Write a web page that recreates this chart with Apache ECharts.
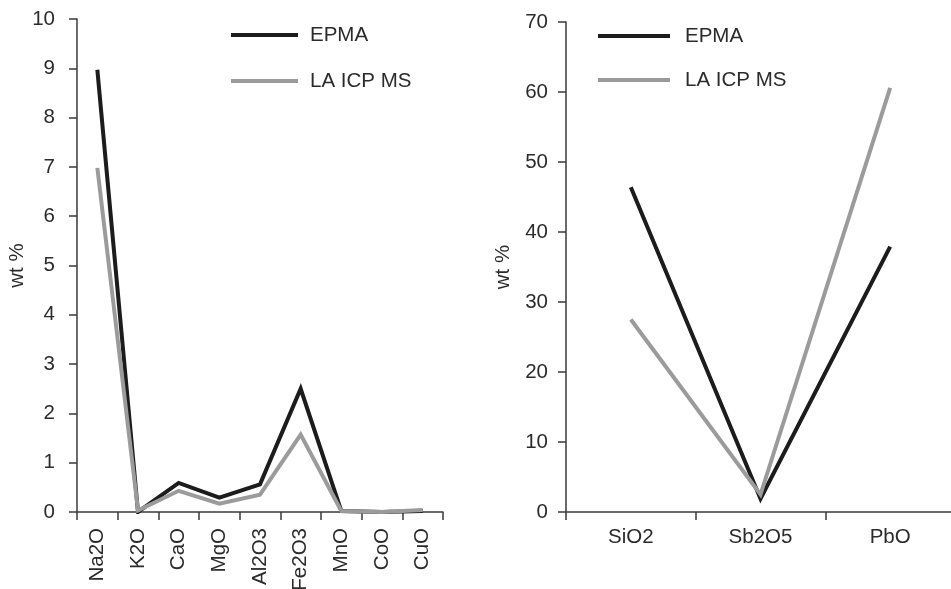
<!DOCTYPE html>
<html>
<head>
<meta charset="utf-8">
<script src="https://cdn.jsdelivr.net/npm/echarts@6/dist/echarts.min.js"></script>
<style>html,body{margin:0;padding:0;background:#fff;}#c{width:951px;height:589px;}</style>
</head>
<body>
<div id="c"></div>
<script>
var minorOxides = ['Na2O', 'K2O', 'CaO', 'MgO', 'Al2O3', 'Fe2O3', 'MnO', 'CoO', 'CuO'];
var minorEPMA = [8.97, 0.0, 0.59, 0.29, 0.56, 2.5, 0.02, 0.0, 0.02];
var minorLA = [6.98, 0.03, 0.43, 0.17, 0.35, 1.57, 0.02, 0.0, 0.04];
var majorOxides = ['SiO2', 'Sb2O5', 'PbO'];
var majorEPMA = [46.4, 1.9, 37.9];
var majorLA = [27.5, 2.5, 60.6];
var seriesNames = ['EPMA', 'LA ICP MS'];
var leftTicks = [0, 10, 1];
var rightTicks = [0, 70, 10];

var FONT = 'Liberation Sans, Arial, sans-serif';
var FS = 20.5;
var TXT = '#2b2b2b';
var AX = '#3a3a3a';
var BLACK = '#1c1c1c';
var GRAY = '#9b9b9b';

function yAxis(idx, ticks, margin, nameGap) {
  return {
    type: 'value', gridIndex: idx, min: ticks[0], max: ticks[1], interval: ticks[2],
    name: 'wt %', nameLocation: 'middle', nameGap: nameGap,
    nameTextStyle: {fontFamily: FONT, fontSize: FS, color: TXT},
    axisLine: {show: true, lineStyle: {color: AX, width: 1.5}},
    axisTick: {show: true, length: 8, lineStyle: {color: AX, width: 1.5}},
    splitLine: {show: false},
    axisLabel: {fontFamily: FONT, fontSize: FS, color: TXT, margin: margin}
  };
}
function xAxis(idx, cats, rotate, margin) {
  return {
    type: 'category', gridIndex: idx, data: cats, boundaryGap: true,
    axisLine: {show: true, lineStyle: {color: AX, width: 1.5}},
    axisTick: {show: true, length: 8, alignWithLabel: false, lineStyle: {color: AX, width: 1.5}},
    axisLabel: {fontFamily: FONT, fontSize: FS, color: TXT, rotate: rotate, margin: margin, interval: 0}
  };
}
function line(name, x, y, data, color) {
  return {
    type: 'line', name: name, xAxisIndex: x, yAxisIndex: y, data: data,
    symbol: 'none', color: color,
    lineStyle: {color: color, width: 4, join: 'miter'},
    animation: false
  };
}

var chart = echarts.init(document.getElementById('c'));
chart.setOption({
  backgroundColor: '#fff',
  animation: false,
  grid: [
    {left: 77, top: 19, right: 508, bottom: 77, containLabel: false, outerBoundsMode: 'none'},
    {left: 566, top: 22, right: -4, bottom: 77, containLabel: false, outerBoundsMode: 'none'}
  ],
  xAxis: [xAxis(0, minorOxides, 90, 16), xAxis(1, majorOxides, 0, 15)],
  yAxis: [yAxis(0, leftTicks, 22, 48), yAxis(1, rightTicks, 18, 52)],
  legend: [
    {data: seriesNames, orient: 'vertical', left: 231, top: 24, icon: 'rect', padding: 0,
     itemWidth: 67, itemHeight: 4, itemGap: 24,
     textStyle: {fontFamily: FONT, fontSize: FS, color: TXT, lineHeight: 22, padding: [0, 0, 0, 7]}},
    {data: seriesNames, orient: 'vertical', left: 598, top: 25, icon: 'rect', padding: 0,
     itemWidth: 72, itemHeight: 4, itemGap: 22,
     textStyle: {fontFamily: FONT, fontSize: FS, color: TXT, lineHeight: 22, padding: [0, 0, 0, 10]}}
  ],
  series: [
    line(seriesNames[0], 0, 0, minorEPMA, BLACK),
    line(seriesNames[1], 0, 0, minorLA, GRAY),
    line(seriesNames[0], 1, 1, majorEPMA, BLACK),
    line(seriesNames[1], 1, 1, majorLA, GRAY)
  ]
});
</script>
</body>
</html>
